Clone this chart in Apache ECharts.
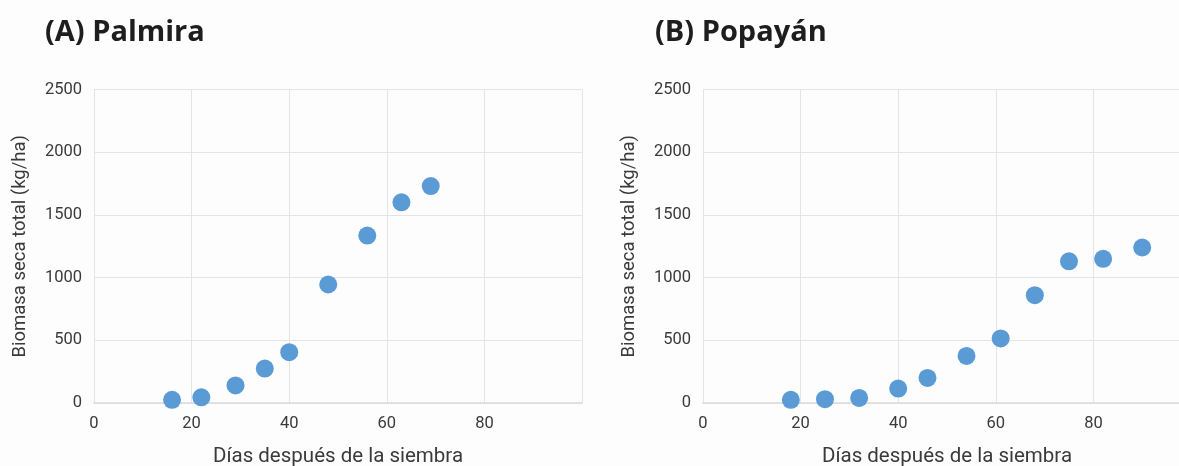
<!DOCTYPE html>
<html>
<head>
<meta charset="utf-8">
<script src="https://cdn.jsdelivr.net/npm/echarts@6/dist/echarts.min.js"></script>
<style>
  html, body { margin: 0; padding: 0; background: #fdfdfd; }
  #chart { width: 1179px; height: 466px; }
</style>
</head>
<body>
<div id="chart"></div>
<script>
// Días después de la siembra y biomasa seca total (kg/ha) por localidad
const palmiraDias = [16, 22, 29, 35, 40, 48, 56, 63, 69];
const palmiraBiomasa = [25, 45, 140, 275, 405, 945, 1335, 1600, 1730];

const popayanDias = [18, 25, 32, 40, 46, 54, 61, 68, 75, 82, 90];
const popayanBiomasa = [25, 30, 40, 115, 200, 375, 515, 860, 1130, 1150, 1240];

const panelTitles = ['(A) Palmira', '(B) Popayán'];
const xAxisName = 'Días después de la siembra';
const yAxisName = 'Biomasa seca total (kg/ha)';

const pair = (xs, ys) => xs.map((x, i) => [x, ys[i]]);

const textColor = '#3a3a3a';
const gridColor = '#e4e4e4';
const baseColor = '#dadada';
const dotColor = '#5b9bd5';
const fontFamily = 'Roboto';

// fixed plot rectangles; the second one runs past the right edge of the canvas
const grids = [
  { left: 94, top: 89.5, width: 488, height: 313.5, outerBoundsMode: 'none' },
  { left: 703, top: 89.5, width: 488, height: 313.5, outerBoundsMode: 'none' }
];

function xAxis(gi) {
  return {
    type: 'value', gridIndex: gi, min: 0, max: 100, interval: 20,
    name: xAxisName, nameLocation: 'middle', nameGap: 43,
    nameTextStyle: { color: textColor, fontSize: 20.5, fontFamily },
    axisLine: { show: true, lineStyle: { color: baseColor, width: 1.5 } },
    axisTick: { show: false },
    axisLabel: { color: textColor, fontSize: 16.5, fontFamily, margin: 12, showMaxLabel: false,
      formatter: v => String(v) },
    splitLine: { show: true, lineStyle: { color: gridColor, width: 1 } }
  };
}
function yAxis(gi) {
  return {
    type: 'value', gridIndex: gi, min: 0, max: 2500, interval: 500,
    name: yAxisName, nameLocation: 'middle', nameGap: 64, nameRotate: 90,
    nameTextStyle: { color: textColor, fontSize: 18.5, fontFamily },
    axisLine: { show: false }, axisTick: { show: false },
    axisLabel: { color: textColor, fontSize: 16.5, fontFamily, margin: 12,
      formatter: v => String(v) },
    splitLine: { show: true, lineStyle: { color: gridColor, width: 1 } }
  };
}

const titleStyle = { color: '#1e1e1e', fontSize: 29, fontWeight: 'bold', fontFamily: 'Open Sans' };

const chart = echarts.init(document.getElementById('chart'), null, { renderer: 'canvas' });
chart.setOption({
  backgroundColor: '#fdfdfd',
  animation: false,
  title: [
    { text: panelTitles[0], left: 40, top: 13, textStyle: titleStyle },
    { text: panelTitles[1], left: 650, top: 13, textStyle: titleStyle }
  ],
  grid: grids,
  xAxis: [xAxis(0), xAxis(1)],
  yAxis: [yAxis(0), yAxis(1)],
  series: [
    { type: 'scatter', xAxisIndex: 0, yAxisIndex: 0, symbolSize: 18,
      itemStyle: { color: dotColor, opacity: 1 }, data: pair(palmiraDias, palmiraBiomasa) },
    { type: 'scatter', xAxisIndex: 1, yAxisIndex: 1, symbolSize: 18,
      itemStyle: { color: dotColor, opacity: 1 }, data: pair(popayanDias, popayanBiomasa) }
  ]
});
</script>
</body>
</html>
